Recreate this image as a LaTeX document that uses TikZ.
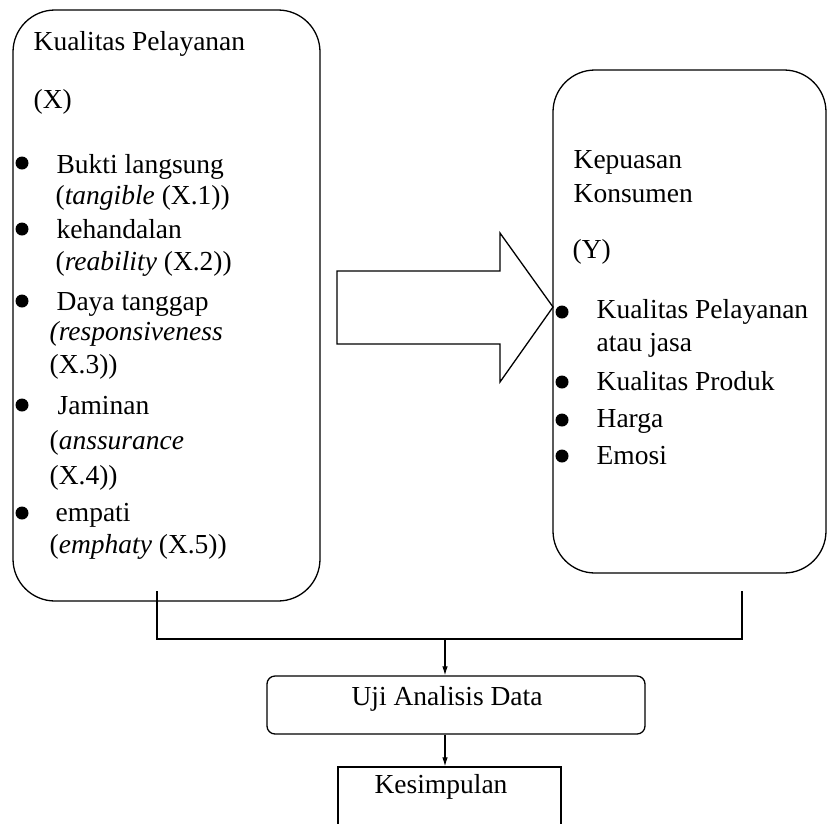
\documentclass[tikz,border=0pt]{standalone}
\usepackage{fontspec}
\setmainfont{Liberation Serif}
\usetikzlibrary{arrows.meta}
\begin{document}
\begin{tikzpicture}[x=1pt,y=-1pt, line width=1.3pt,
  txt/.style={anchor=base west, inner sep=0pt, font=\fontsize{27.5}{33}\selectfont},
  ctxt/.style={anchor=base, inner sep=0pt, font=\fontsize{27.5}{33}\selectfont},
  bul/.style={circle, fill=black, draw=none, inner sep=0pt, minimum size=13pt},
  bigbox/.style={draw, rounded corners=42pt, inner sep=0pt},
  smallbox/.style={draw, inner sep=0pt},
  conn/.style={line width=1.1pt},
  arr/.style={conn, -{Latex[length=9pt,width=5.5pt]}}]
\clip (0,0) rectangle (827,823);
\fill[white] (0,0) rectangle (827,823);

% left box
\node[bigbox, minimum width=307pt, minimum height=591pt] (bx) at (166.5,305.5) {};
\node[txt] (x1) at (33,50) {Kualitas Pelayanan};
\node[txt] (x2) at (33,108) {(X)};
\node[txt] (x3) at (56,173) {Bukti langsung};
\node[txt] (x4) at (55,204) {(\textit{tangible} (X.1))};
\node[txt] (x5) at (56,238) {kehandalan};
\node[txt] (x6) at (55,270) {(\textit{reability} (X.2))};
\node[txt] (x7) at (56,310) {Daya tanggap};
\node[txt] (x8) at (49,340) {\textit{(responsiveness}};
\node[txt] (x9) at (49,373) {(X.3))};
\node[txt] (x10) at (57,414) {Jaminan};
\node[txt] (x11) at (49,449) {(\textit{anssurance}};
\node[txt] (x12) at (49,484) {(X.4))};
\node[txt] (x13) at (55,521) {empati};
\node[txt] (x14) at (49,553) {(\textit{emphaty} (X.5))};
\node[bul] (bx1) at (22,163) {};
\node[bul] (bx2) at (22,229) {};
\node[bul] (bx3) at (22,301) {};
\node[bul] (bx4) at (22,405) {};
\node[bul] (bx5) at (22,513) {};

% right box
\node[bigbox, minimum width=273pt, minimum height=503pt] (by) at (689.5,321.5) {};
\node[txt] (y1) at (573,168) {Kepuasan};
\node[txt] (y2) at (573,202) {Konsumen};
\node[txt] (y3) at (572,258) {(Y)};
\node[txt] (y4) at (596,318) {Kualitas Pelayanan};
\node[txt] (y5) at (596,351) {atau jasa};
\node[txt] (y6) at (596,390) {Kualitas Produk};
\node[txt] (y7) at (596,427) {Harga};
\node[txt] (y8) at (596,464) {Emosi};
\node[bul] (by1) at (562,312) {};
\node[bul] (by2) at (562,382) {};
\node[bul] (by3) at (562,420) {};
\node[bul] (by4) at (562,456) {};

% block arrow
\draw (337,271) -- (500,271) -- (500,233) -- (553,307) -- (500,382) -- (500,344) -- (337,344) -- cycle;

% bottom boxes
\node[smallbox, rounded corners=8pt, minimum width=378pt, minimum height=58pt] (uji) at (456,705) {};
\node[ctxt] (ujit) at (447,705) {Uji Analisis Data};
\node[smallbox, minimum width=223pt, minimum height=83pt] (kes) at (449.5,808.5) {};
\node[ctxt] (kest) at (441,793) {Kesimpulan};

% connectors
\coordinate (la) at (157,591);
\coordinate (lb) at (157,639);
\coordinate (rb) at (742,639);
\coordinate (ra) at (742,591);
\coordinate (j) at (445,639);
\draw[conn] (la) -- (lb) -- (rb) -- (ra);
\draw[arr] (j) -- (j |- uji.north);
\draw[arr] (j |- uji.south) -- (j |- kes.north);
\end{tikzpicture}
\end{document}
